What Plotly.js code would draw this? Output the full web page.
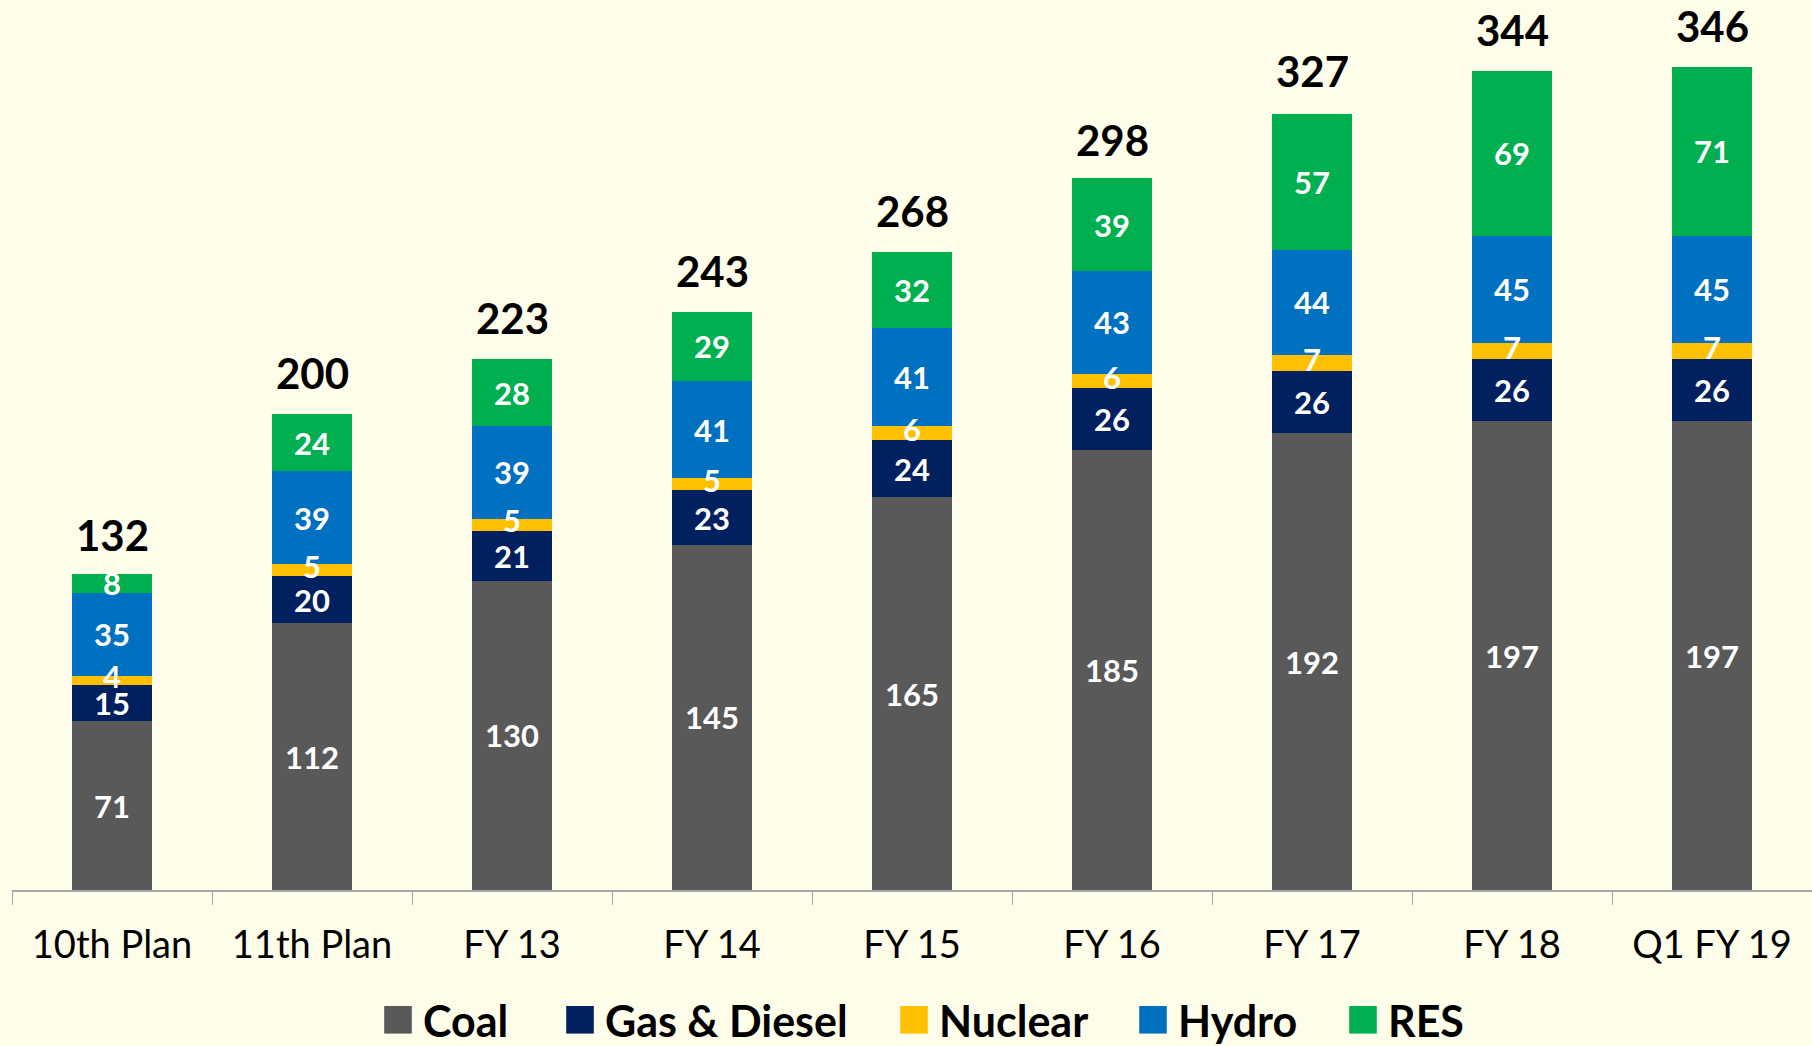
<!DOCTYPE html>
<html>
<head>
<meta charset="utf-8">
<script src="https://cdn.plot.ly/plotly-3.0.1.min.js"></script>
<style>
html,body{margin:0;padding:0;background:#FEFDE9;}
#chart{width:1812px;height:1046px;}
</style>
</head>
<body>
<div id="chart"></div>
<script>
const categories = ["10th Plan","11th Plan","FY 13","FY 14","FY 15","FY 16","FY 17","FY 18","Q1 FY 19"];
const coal    = [71,112,130,145,165,185,192,197,197];
const gas     = [15,20,21,23,24,26,26,26,26];
const nuclear = [4,5,5,5,6,6,7,7,7];
const hydro   = [35,39,39,41,41,43,44,45,45];
const res     = [8,24,28,29,32,39,57,69,71];
const totals  = [132,200,223,243,268,298,327,344,346];

const seriesNames = ["Coal","Gas & Diesel","Nuclear","Hydro","RES"];
const seriesColors = ["#595959","#002060","#FFC000","#0070C0","#00B050"];
const seriesValues = [coal,gas,nuclear,hydro,res];

const FONT = "Lato, 'Open Sans', sans-serif";
const legendIds = ['legend','legend2','legend3','legend4','legend5'];
const legendX = [373, 555, 889, 1128, 1338];  // left edge of each legend entry, px
const labelFont = {family:FONT, size:31, color:'#FFFFFF', weight:'bold'};

const traces = seriesValues.map((vals,i)=>({
  type:'bar',
  name:seriesNames[i],
  legend:legendIds[i],
  x:categories,
  y:vals,
  width:0.4,
  marker:{color:seriesColors[i], line:{width:0}},
  text:vals.map(String),
  textposition: seriesNames[i]==='Nuclear' ? 'none' : 'inside',
  insidetextanchor:'middle',
  textangle:0,
  constraintext:'none',
  textfont:labelFont,
  hoverinfo:'skip'
}));

// Nuclear labels drawn on top of the stack (the thin segment's label overflows into neighbours)
traces.push({
  type:'scatter', mode:'text', showlegend:false, hoverinfo:'skip',
  x:categories,
  y:nuclear.map((v,i)=>coal[i]+gas[i]+v/2),
  text:nuclear.map(String),
  textposition:'middle center',
  textfont:labelFont,
  cliponaxis:false
});

const annotations = categories.map((c,i)=>({
  x:c, y:totals[i], xref:'x', yref:'y',
  text:'<b>'+totals[i]+'</b>',
  showarrow:false, yanchor:'bottom', yshift:14,
  font:{family:FONT, size:42, color:'#000000'}
}));

const layout = {
  width:1812, height:1046,
  paper_bgcolor:'#FEFDE9', plot_bgcolor:'#FEFDE9',
  barmode:'stack',
  margin:{l:12, r:0, t:0, b:156, autoexpand:false},
  font:{family:FONT},
  uniformtext:{mode:'show', minsize:31},
  xaxis:{
    type:'category', range:[-0.5,8.5], automargin:false,
    showline:true, linecolor:'#A6A6A6', linewidth:2,
    ticks:'outside', tickson:'boundaries', ticklen:13, tickcolor:'#A6A6A6', tickwidth:1,
    ticklabelstandoff:20,
    tickfont:{family:FONT, size:38, color:'#000000'},
    showgrid:false, zeroline:false, fixedrange:true
  },
  yaxis:{
    range:[0,374], visible:false, showgrid:false, zeroline:false, fixedrange:true, automargin:false
  },
  showlegend:true,
  annotations:annotations
};
legendIds.forEach((id,i)=>{
  layout[id] = {
    orientation:'h', xref:'container', x:legendX[i]/1812, xanchor:'left',
    yref:'container', y:0.025, yanchor:'middle',
    font:{family:FONT, size:43, color:'#000000', weight:'bold'},
    bgcolor:'rgba(0,0,0,0)', itemwidth:40
  };
});

Plotly.newPlot('chart', traces, layout, {displayModeBar:false, staticPlot:true}).then(gd=>{
  gd.querySelectorAll('.legendpoints path').forEach(p=>{
    const t = p.getAttribute('transform') || '';
    p.setAttribute('transform', t + ' scale(2.3)');
  });
});
</script>
</body>
</html>
